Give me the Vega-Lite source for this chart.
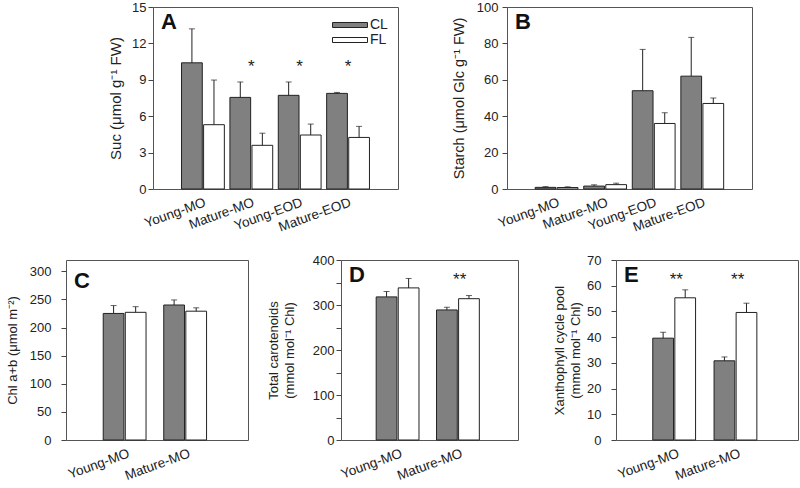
{
  "$schema": "https://vega.github.io/schema/vega-lite/v6.json",
  "padding": {"left": 5, "top": 0, "right": 0, "bottom": 0},
  "background": "white",
  "config": {
    "font": "Liberation Sans",
    "view": {"stroke": "#555", "strokeWidth": 1},
    "axis": {"labelFont": "Liberation Sans", "titleFont": "Liberation Sans", "labelFontSize": 13, "titleFontSize": 13, "titleFontWeight": "normal", "labelColor": "#222", "titleColor": "#222", "domain": false, "grid": false, "tickColor": "#444", "tickSize": 5, "labelPadding": 2, "titleLineHeight": 16},
    "axisX": {"ticks": false, "labelAngle": -20, "labelAlign": "right", "labelBaseline": "top", "labelPadding": 6, "labelFontSize": 13.5},
    "title": {"font": "Liberation Sans"}
  },
  "datasets": {
    "A": [
      {"group": "Young-MO", "series": "CL", "mean": 10.4, "upper": 13.2},
      {"group": "Young-MO", "series": "FL", "mean": 5.3, "upper": 8.98},
      {"group": "Mature-MO", "series": "CL", "mean": 7.55, "upper": 8.82},
      {"group": "Mature-MO", "series": "FL", "mean": 3.6, "upper": 4.6},
      {"group": "Young-EOD", "series": "CL", "mean": 7.72, "upper": 8.82},
      {"group": "Young-EOD", "series": "FL", "mean": 4.45, "upper": 5.35},
      {"group": "Mature-EOD", "series": "CL", "mean": 7.88, "upper": 7.96},
      {"group": "Mature-EOD", "series": "FL", "mean": 4.25, "upper": 5.16}
    ],
    "Astars": [
      {"group": "Mature-MO", "y": 10.4, "label": "*"},
      {"group": "Young-EOD", "y": 10.4, "label": "*"},
      {"group": "Mature-EOD", "y": 10.4, "label": "*"}
    ],
    "B": [
      {"group": "Young-MO", "series": "CL", "mean": 0.9, "upper": 1.3},
      {"group": "Young-MO", "series": "FL", "mean": 0.8, "upper": 1.2},
      {"group": "Mature-MO", "series": "CL", "mean": 1.6, "upper": 2.3},
      {"group": "Mature-MO", "series": "FL", "mean": 2.4, "upper": 3.2},
      {"group": "Young-EOD", "series": "CL", "mean": 54, "upper": 76.7},
      {"group": "Young-EOD", "series": "FL", "mean": 36, "upper": 41.9},
      {"group": "Mature-EOD", "series": "CL", "mean": 62, "upper": 83.3},
      {"group": "Mature-EOD", "series": "FL", "mean": 47, "upper": 50}
    ],
    "C": [
      {"group": "Young-MO", "series": "CL", "mean": 225, "upper": 239},
      {"group": "Young-MO", "series": "FL", "mean": 227, "upper": 237},
      {"group": "Mature-MO", "series": "CL", "mean": 240, "upper": 249},
      {"group": "Mature-MO", "series": "FL", "mean": 229, "upper": 235}
    ],
    "D": [
      {"group": "Young-MO", "series": "CL", "mean": 318, "upper": 330},
      {"group": "Young-MO", "series": "FL", "mean": 338, "upper": 359},
      {"group": "Mature-MO", "series": "CL", "mean": 289, "upper": 295},
      {"group": "Mature-MO", "series": "FL", "mean": 314, "upper": 321}
    ],
    "Dstars": [
      {"group": "Mature-MO", "y": 365, "label": "**"}
    ],
    "E": [
      {"group": "Young-MO", "series": "CL", "mean": 39.6, "upper": 41.9},
      {"group": "Young-MO", "series": "FL", "mean": 55.3, "upper": 58.4},
      {"group": "Mature-MO", "series": "CL", "mean": 30.8, "upper": 32.3},
      {"group": "Mature-MO", "series": "FL", "mean": 49.6, "upper": 53.2}
    ],
    "Estars": [
      {"group": "Young-MO", "y": 63.9, "label": "**"},
      {"group": "Mature-MO", "y": 63.9, "label": "**"}
    ]
  },
  "spacing": 18,
  "resolve": {"scale": {"fill": "independent"}},
  "vconcat": [
    {
      "bounds": "flush",
      "spacing": 20,
      "resolve": {"scale": {"fill": "independent"}},
      "hconcat": [
        {"width": 67, "height": 182, "data": {"values": []}, "mark": {"type": "point", "opacity": 0}, "view": {"stroke": null}},
        {
          "width": 245, "height": 182,
          "data": {"name": "A"},
          "title": {"text": "A", "anchor": "start", "frame": "group", "fontSize": 22, "fontWeight": "bold", "color": "#111", "offset": 0, "dx": 8, "dy": 50, "baseline": "alphabetic"},
          "encoding": {
            "x": {"field": "group", "type": "nominal", "sort": ["Young-MO", "Mature-MO", "Young-EOD", "Mature-EOD"], "scale": {"paddingInner": 0.115, "paddingOuter": 0.59}, "axis": {"title": null}}
          },
          "layer": [
            {
              "mark": {"type": "bar", "stroke": "#222", "strokeWidth": 1},
              "encoding": {
                "xOffset": {"field": "series", "type": "nominal", "sort": ["CL", "FL"], "scale": {"paddingInner": 0.06}},
                "y": {"field": "mean", "type": "quantitative", "scale": {"domain": [0, 15], "nice": false}, "axis": {"title": "Suc (μmol g⁻¹ FW)", "titleFontSize": 15, "values": [0, 3, 6, 9, 12, 15], "titlePadding": 8}},
                "fill": {"field": "series", "type": "nominal", "scale": {"domain": ["CL", "FL"], "range": ["#808080", "#ffffff"]}, "legend": {"title": null, "orient": "none", "legendX": 190, "legendY": 11, "symbolType": "M-7,-1H7V1H-7Z", "symbolSize": 25, "symbolStrokeColor": "#222", "symbolStrokeWidth": 1, "labelFontSize": 14, "labelColor": "#222", "labelFont": "Liberation Sans", "labelOffset": 13, "rowPadding": 1, "padding": 0}}
              }
            },
            {
              "mark": {"type": "rule", "color": "#222", "strokeWidth": 1},
              "encoding": {
                "xOffset": {"field": "series", "type": "nominal", "sort": ["CL", "FL"]},
                "y": {"field": "mean", "type": "quantitative", "axis": {"title": "Suc (μmol g⁻¹ FW)", "titleFontSize": 15, "values": [0, 3, 6, 9, 12, 15], "titlePadding": 8}},
                "y2": {"field": "upper"}
              }
            },
            {
              "mark": {"type": "tick", "color": "#222", "size": 6, "thickness": 1},
              "encoding": {
                "xOffset": {"field": "series", "type": "nominal", "sort": ["CL", "FL"]},
                "y": {"field": "upper", "type": "quantitative", "axis": {"title": "Suc (μmol g⁻¹ FW)", "titleFontSize": 15, "values": [0, 3, 6, 9, 12, 15], "titlePadding": 8}}
              }
            },
            {
              "data": {"name": "Astars"},
              "mark": {"type": "text", "fontSize": 17, "color": "#222", "baseline": "middle", "dy": 4},
              "encoding": {
                "y": {"field": "y", "type": "quantitative", "axis": {"title": "Suc (μmol g⁻¹ FW)", "titleFontSize": 15, "values": [0, 3, 6, 9, 12, 15], "titlePadding": 8}},
                "text": {"field": "label"}
              }
            }
          ]
        },
        {"width": 69, "height": 182, "data": {"values": []}, "mark": {"type": "point", "opacity": 0}, "view": {"stroke": null}},
        {
          "width": 245, "height": 182,
          "data": {"name": "B"},
          "title": {"text": "B", "anchor": "start", "frame": "group", "fontSize": 22, "fontWeight": "bold", "color": "#111", "offset": 0, "dx": 8, "dy": 50, "baseline": "alphabetic"},
          "encoding": {
            "x": {"field": "group", "type": "nominal", "sort": ["Young-MO", "Mature-MO", "Young-EOD", "Mature-EOD"], "scale": {"paddingInner": 0.115, "paddingOuter": 0.58}, "axis": {"title": null}}
          },
          "layer": [
            {
              "mark": {"type": "bar", "stroke": "#222", "strokeWidth": 1},
              "encoding": {
                "xOffset": {"field": "series", "type": "nominal", "sort": ["CL", "FL"], "scale": {"paddingInner": 0.06}},
                "y": {"field": "mean", "type": "quantitative", "scale": {"domain": [0, 100], "nice": false}, "axis": {"title": "Starch (μmol Glc g⁻¹ FW)", "titleFontSize": 14.5, "labelPadding": 4, "values": [0, 20, 40, 60, 80, 100], "titlePadding": 10}},
                "fill": {"field": "series", "type": "nominal", "scale": {"domain": ["CL", "FL"], "range": ["#808080", "#ffffff"]}, "legend": null}
              }
            },
            {
              "mark": {"type": "rule", "color": "#222", "strokeWidth": 1},
              "encoding": {
                "xOffset": {"field": "series", "type": "nominal", "sort": ["CL", "FL"]},
                "y": {"field": "mean", "type": "quantitative", "axis": {"title": "Starch (μmol Glc g⁻¹ FW)", "titleFontSize": 14.5, "labelPadding": 4, "values": [0, 20, 40, 60, 80, 100], "titlePadding": 10}},
                "y2": {"field": "upper"}
              }
            },
            {
              "mark": {"type": "tick", "color": "#222", "size": 6, "thickness": 1},
              "encoding": {
                "xOffset": {"field": "series", "type": "nominal", "sort": ["CL", "FL"]},
                "y": {"field": "upper", "type": "quantitative", "axis": {"title": "Starch (μmol Glc g⁻¹ FW)", "titleFontSize": 14.5, "labelPadding": 4, "values": [0, 20, 40, 60, 80, 100], "titlePadding": 10}}
              }
            }
          ]
        }
      ]
    },
    {
      "bounds": "flush",
      "spacing": 93,
      "resolve": {"scale": {"fill": "independent"}},
      "hconcat": [
        {
          "width": 182, "height": 180,
          "data": {"name": "C"},
          "title": {"text": "C", "anchor": "start", "frame": "group", "fontSize": 22, "fontWeight": "bold", "color": "#111", "offset": 0, "dx": 8, "dy": 50, "baseline": "alphabetic"},
          "encoding": {
            "x": {"field": "group", "type": "nominal", "sort": ["Young-MO", "Mature-MO"], "scale": {"paddingInner": 0.223, "paddingOuter": 0.615}, "axis": {"title": null}}
          },
          "layer": [
            {
              "mark": {"type": "bar", "stroke": "#222", "strokeWidth": 1},
              "encoding": {
                "xOffset": {"field": "series", "type": "nominal", "sort": ["CL", "FL"], "scale": {"paddingInner": 0.06}},
                "y": {"field": "mean", "type": "quantitative", "scale": {"domain": [0, 320], "nice": false}, "axis": {"title": "Chl a+b (μmol m⁻²)", "labelPadding": 10, "values": [0, 50, 100, 150, 200, 250, 300], "titlePadding": 10}},
                "fill": {"field": "series", "type": "nominal", "scale": {"domain": ["CL", "FL"], "range": ["#808080", "#ffffff"]}, "legend": null}
              }
            },
            {
              "mark": {"type": "rule", "color": "#222", "strokeWidth": 1},
              "encoding": {
                "xOffset": {"field": "series", "type": "nominal", "sort": ["CL", "FL"]},
                "y": {"field": "mean", "type": "quantitative", "axis": {"title": "Chl a+b (μmol m⁻²)", "labelPadding": 10, "values": [0, 50, 100, 150, 200, 250, 300], "titlePadding": 10}},
                "y2": {"field": "upper"}
              }
            },
            {
              "mark": {"type": "tick", "color": "#222", "size": 6, "thickness": 1},
              "encoding": {
                "xOffset": {"field": "series", "type": "nominal", "sort": ["CL", "FL"]},
                "y": {"field": "upper", "type": "quantitative", "axis": {"title": "Chl a+b (μmol m⁻²)", "labelPadding": 10, "values": [0, 50, 100, 150, 200, 250, 300], "titlePadding": 10}}
              }
            }
          ]
        },
        {
          "bounds": "flush",
          "spacing": 98,
          "resolve": {"scale": {"fill": "independent"}},
          "hconcat": [
            {
              "width": 177, "height": 180,
              "data": {"name": "D"},
              "title": {"text": "D", "anchor": "start", "frame": "group", "fontSize": 22, "fontWeight": "bold", "color": "#111", "offset": 0, "dx": 8, "dy": 50, "baseline": "alphabetic"},
              "encoding": {
                "x": {"field": "group", "type": "nominal", "sort": ["Young-MO", "Mature-MO"], "scale": {"paddingInner": 0.233, "paddingOuter": 0.583}, "axis": {"title": null}}
              },
              "layer": [
                {
                  "mark": {"type": "bar", "stroke": "#222", "strokeWidth": 1},
                  "encoding": {
                    "xOffset": {"field": "series", "type": "nominal", "sort": ["CL", "FL"], "scale": {"paddingInner": 0.06}},
                    "y": {"field": "mean", "type": "quantitative", "scale": {"domain": [0, 400], "nice": false}, "axis": {"title": ["Total carotenoids", "(mmol mol⁻¹ Chl)"], "values": [0, 50, 100, 150, 200, 250, 300, 350, 400], "labelExpr": "datum.value % 100 == 0 ? datum.label : ''", "titlePadding": 16}},
                    "fill": {"field": "series", "type": "nominal", "scale": {"domain": ["CL", "FL"], "range": ["#808080", "#ffffff"]}, "legend": null}
                  }
                },
                {
                  "mark": {"type": "rule", "color": "#222", "strokeWidth": 1},
                  "encoding": {
                    "xOffset": {"field": "series", "type": "nominal", "sort": ["CL", "FL"]},
                    "y": {"field": "mean", "type": "quantitative", "axis": {"title": ["Total carotenoids", "(mmol mol⁻¹ Chl)"], "values": [0, 50, 100, 150, 200, 250, 300, 350, 400], "labelExpr": "datum.value % 100 == 0 ? datum.label : ''", "titlePadding": 16}},
                    "y2": {"field": "upper"}
                  }
                },
                {
                  "mark": {"type": "tick", "color": "#222", "size": 6, "thickness": 1},
                  "encoding": {
                    "xOffset": {"field": "series", "type": "nominal", "sort": ["CL", "FL"]},
                    "y": {"field": "upper", "type": "quantitative", "axis": {"title": ["Total carotenoids", "(mmol mol⁻¹ Chl)"], "values": [0, 50, 100, 150, 200, 250, 300, 350, 400], "labelExpr": "datum.value % 100 == 0 ? datum.label : ''", "titlePadding": 16}}
                  }
                },
                {
                  "data": {"name": "Dstars"},
                  "mark": {"type": "text", "fontSize": 17, "color": "#222", "baseline": "middle", "dy": 4},
                  "encoding": {
                    "y": {"field": "y", "type": "quantitative", "axis": {"title": ["Total carotenoids", "(mmol mol⁻¹ Chl)"], "values": [0, 50, 100, 150, 200, 250, 300, 350, 400], "labelExpr": "datum.value % 100 == 0 ? datum.label : ''", "titlePadding": 16}},
                    "text": {"field": "label"}
                  }
                }
              ]
            },
            {
              "width": 182, "height": 180,
              "data": {"name": "E"},
              "title": {"text": "E", "anchor": "start", "frame": "group", "fontSize": 22, "fontWeight": "bold", "color": "#111", "offset": 0, "dx": 8, "dy": 50, "baseline": "alphabetic"},
              "encoding": {
                "x": {"field": "group", "type": "nominal", "sort": ["Young-MO", "Mature-MO"], "scale": {"paddingInner": 0.23, "paddingOuter": 0.6}, "axis": {"title": null}}
              },
              "layer": [
                {
                  "mark": {"type": "bar", "stroke": "#222", "strokeWidth": 1},
                  "encoding": {
                    "xOffset": {"field": "series", "type": "nominal", "sort": ["CL", "FL"], "scale": {"paddingInner": 0.06}},
                    "y": {"field": "mean", "type": "quantitative", "scale": {"domain": [0, 70], "nice": false}, "axis": {"title": ["Xanthophyll cycle pool", "(mmol mol⁻¹ Chl)"], "labelPadding": 10, "values": [0, 10, 20, 30, 40, 50, 60, 70], "titlePadding": 4}},
                    "fill": {"field": "series", "type": "nominal", "scale": {"domain": ["CL", "FL"], "range": ["#808080", "#ffffff"]}, "legend": null}
                  }
                },
                {
                  "mark": {"type": "rule", "color": "#222", "strokeWidth": 1},
                  "encoding": {
                    "xOffset": {"field": "series", "type": "nominal", "sort": ["CL", "FL"]},
                    "y": {"field": "mean", "type": "quantitative", "axis": {"title": ["Xanthophyll cycle pool", "(mmol mol⁻¹ Chl)"], "labelPadding": 10, "values": [0, 10, 20, 30, 40, 50, 60, 70], "titlePadding": 4}},
                    "y2": {"field": "upper"}
                  }
                },
                {
                  "mark": {"type": "tick", "color": "#222", "size": 6, "thickness": 1},
                  "encoding": {
                    "xOffset": {"field": "series", "type": "nominal", "sort": ["CL", "FL"]},
                    "y": {"field": "upper", "type": "quantitative", "axis": {"title": ["Xanthophyll cycle pool", "(mmol mol⁻¹ Chl)"], "labelPadding": 10, "values": [0, 10, 20, 30, 40, 50, 60, 70], "titlePadding": 4}}
                  }
                },
                {
                  "data": {"name": "Estars"},
                  "mark": {"type": "text", "fontSize": 17, "color": "#222", "baseline": "middle", "dy": 4},
                  "encoding": {
                    "y": {"field": "y", "type": "quantitative", "axis": {"title": ["Xanthophyll cycle pool", "(mmol mol⁻¹ Chl)"], "labelPadding": 10, "values": [0, 10, 20, 30, 40, 50, 60, 70], "titlePadding": 4}},
                    "text": {"field": "label"}
                  }
                }
              ]
            }
          ]
        }
      ]
    }
  ]
}
